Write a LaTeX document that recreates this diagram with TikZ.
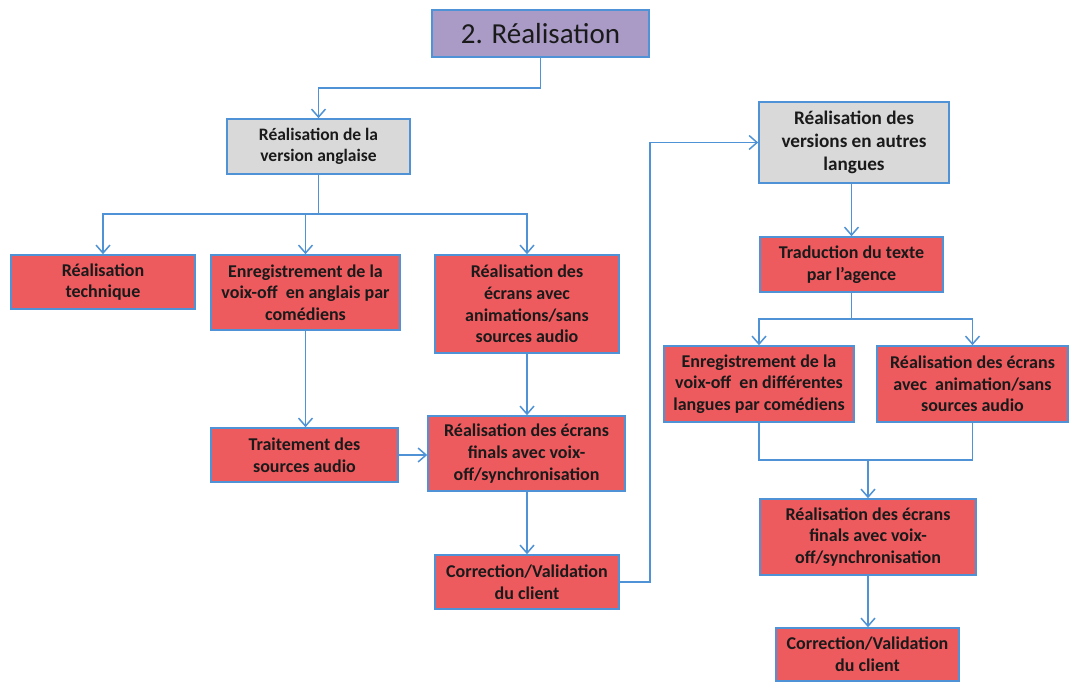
\documentclass[tikz,border=0pt]{standalone}
\usepackage{fontspec}
\setmainfont{Carlito}
\usetikzlibrary{arrows.meta}
\definecolor{bordblue}{HTML}{4F93D6}
\definecolor{boxred}{HTML}{EE5B5F}
\definecolor{boxgray}{HTML}{D9D9D9}
\definecolor{boxpurple}{HTML}{A99BC6}
\definecolor{txt}{HTML}{1A1A1A}
\tikzset{
  basebox/.style={draw=bordblue, line width=1.6pt, inner sep=2pt, align=center, text=txt,
    font=\fontsize{18}{21.7}\selectfont\bfseries},
  redbox/.style={basebox, fill=boxred},
  graybox/.style={basebox, fill=boxgray},
  conn/.style={draw=bordblue, line width=1.6pt},
  arr/.style={conn, -{Straight Barb[length=8pt,width=14pt,line width=1.5pt]}},
}
\begin{document}
\begin{tikzpicture}[x=1pt,y=-1pt]
\useasboundingbox (0,0) rectangle (1070,682);
\fill[white] (0,0) rectangle (1070,682);
% nodes
\node[basebox, fill=boxpurple, font=\fontsize{29}{34}\selectfont, minimum width=217pt, minimum height=47pt] (title) at (540.5,33.5) {2. Réalisation};
\node[graybox, font=\fontsize{17.5}{20.5}\selectfont\bfseries, minimum width=183pt, minimum height=55pt] (g1) at (318.5,146.5) {Réalisation de la\\version anglaise};
\node[redbox, minimum width=184pt, minimum height=54pt] (tech) at (103,282) {Réalisation\\technique};
\node[redbox, minimum width=189pt, minimum height=75pt] (enr) at (305.5,292.5) {Enregistrement de la\\voix-off~ en anglais par\\comédiens};
\node[redbox, minimum width=184pt, minimum height=98pt] (anim) at (527,304) {Réalisation des\\écrans avec\\animations/sans\\sources audio};
\node[redbox, minimum width=187pt, minimum height=54pt] (trait) at (304.5,455) {Traitement des\\sources audio};
\node[redbox, minimum width=197pt, minimum height=75pt] (final) at (526.5,453.5) {Réalisation des écrans\\finals avec voix-\\off/synchronisation};
\node[redbox, minimum width=184pt, minimum height=54pt] (corr) at (527,582) {Correction/Validation\\du client};
\node[graybox, font=\fontsize{19.2}{23}\selectfont\bfseries, minimum width=190pt, minimum height=81pt] (g2) at (854,142.5) {Réalisation des\\versions en autres\\langues};
\node[redbox, minimum width=183pt, minimum height=55pt] (trad) at (851.5,264.5) {Traduction du texte\\par l’agence};
\node[redbox, minimum width=190pt, minimum height=76pt] (enr2) at (759,384) {Enregistrement de la\\voix-off~ en différentes\\langues par comédiens};
\node[redbox, minimum width=191pt, minimum height=76pt] (anim2) at (972.5,384) {Réalisation des écrans\\avec~ animation/sans\\sources audio};
\node[redbox, minimum width=216pt, minimum height=76pt] (final2) at (868,537) {Réalisation des écrans\\finals avec voix-\\off/synchronisation};
\node[redbox, minimum width=183pt, minimum height=53pt] (corr2) at (867.5,654.5) {Correction/Validation\\du client};
% helper coordinates
\coordinate (tbend) at (540.5,88);
\coordinate (bus) at (318.5,214);
\coordinate (up) at (650,300);
\coordinate (bus2) at (851.5,319);
\coordinate (join) at (868,460);
% connectors
\draw[arr] (title.south) -- (tbend) -| (g1.north);
\draw[conn] (g1.south) -- (bus);
\draw[arr] (bus) -| (tech.north);
\draw[arr] (bus) -| (anim.north);
\draw[arr] (enr.north |- bus) -- (enr.north);
\draw[arr] (enr.south) -- (enr.south |- trait.north);
\draw[arr] (anim.south) -- (anim.south |- final.north);
\draw[arr] (trait.east) -- (trait.east -| final.west);
\draw[arr] (anim.south |- final.south) -- (anim.south |- corr.north);
\draw[arr] (corr.east) -- (corr.east -| up) |- (g2.west);
\draw[arr] (g2.south -| trad.north) -- (trad.north);
\draw[conn] (trad.south) -- (bus2);
\draw[arr] (bus2) -| (enr2.north);
\draw[arr] (bus2) -| (anim2.north);
\draw[conn] (enr2.south) |- (join) -| (anim2.south);
\draw[arr] (join) -- (final2.north);
\draw[arr] (final2.south) -- (final2.south |- corr2.north);
\end{tikzpicture}
\end{document}
